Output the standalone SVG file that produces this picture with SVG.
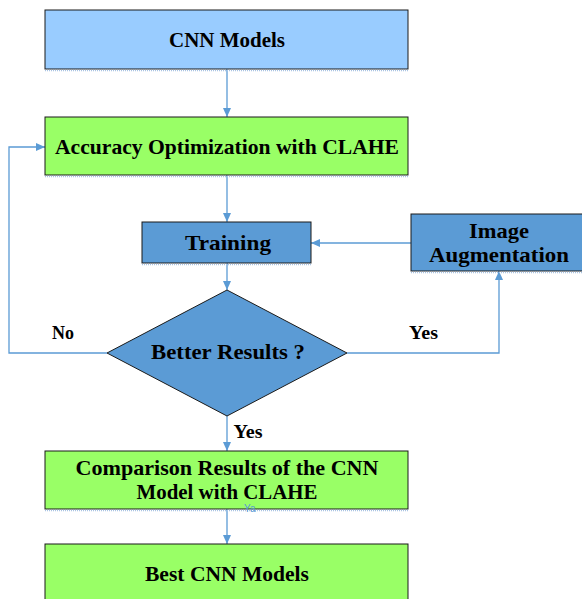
<svg xmlns="http://www.w3.org/2000/svg" width="582" height="599" viewBox="0 0 582 599">
<style>
.box{stroke:#1a1a1a;stroke-width:1}
.lt{fill:#99CCFF}
.gr{fill:#99FF66}
.bl{fill:#5B9BD5}
.sh{stroke:#A9C4E4;stroke-width:1.5;stroke-dasharray:1 1}
.t{font-family:"Liberation Serif","DejaVu Serif",serif;font-weight:bold;font-size:21px;fill:#000;text-anchor:middle}
.lab{font-family:"Liberation Serif","DejaVu Serif",serif;font-weight:bold;font-size:18px;fill:#000}
.c{fill:none;stroke:#5B9BD5;stroke-width:1.3}
</style>
<defs>
<marker id="ah" markerWidth="10" markerHeight="10" refX="9" refY="5" orient="auto" markerUnits="userSpaceOnUse">
<path d="M0,1 L9,5 L0,9 Z" fill="#5B9BD5"/>
</marker>
</defs>
<g id="connectors">
<line class="c" x1="227" y1="69" x2="227" y2="117" marker-end="url(#ah)"/>
<line class="c" x1="227" y1="175" x2="227" y2="222" marker-end="url(#ah)"/>
<line class="c" x1="411" y1="243" x2="311" y2="243" marker-end="url(#ah)"/>
<line class="c" x1="227" y1="263" x2="227" y2="290" marker-end="url(#ah)"/>
<polyline class="c" points="107,353 9,353 9,147 45,147" marker-end="url(#ah)"/>
<polyline class="c" points="347,353 499,353 499,271" marker-end="url(#ah)"/>
<line class="c" x1="227" y1="416" x2="227" y2="451" marker-end="url(#ah)"/>
<line class="c" x1="227" y1="509" x2="227" y2="544" marker-end="url(#ah)"/>
<text class="lab" x="52" y="339" textLength="22" lengthAdjust="spacingAndGlyphs">No</text>
<text class="lab" x="409" y="339" textLength="29" lengthAdjust="spacingAndGlyphs">Yes</text>
<text class="lab" x="233.5" y="438" textLength="29" lengthAdjust="spacingAndGlyphs">Yes</text>
</g>
<g id="cnn-models">
<rect class="box lt" x="45" y="10" width="363" height="59"/>
<line class="sh" x1="45" y1="70.5" x2="408" y2="70.5"/>
<text class="t" x="227" y="47" textLength="116" lengthAdjust="spacingAndGlyphs">CNN Models</text>
</g>
<g id="accuracy-optimization">
<rect class="box gr" x="45" y="117" width="363" height="58"/>
<line class="sh" x1="45" y1="176.5" x2="408" y2="176.5"/>
<text class="t" x="227" y="154" textLength="344" lengthAdjust="spacingAndGlyphs">Accuracy Optimization with CLAHE</text>
</g>
<g id="training">
<rect class="box bl" x="142" y="222" width="169" height="41"/>
<line class="sh" x1="142" y1="264.5" x2="311" y2="264.5"/>
<text class="t" x="228" y="250" textLength="86" lengthAdjust="spacingAndGlyphs">Training</text>
</g>
<g id="image-augmentation">
<rect class="box bl" x="411" y="214" width="175" height="57"/>
<line class="sh" x1="411" y1="272.5" x2="582" y2="272.5"/>
<text class="t" x="499" y="238" textLength="60" lengthAdjust="spacingAndGlyphs">Image</text>
<text class="t" x="499" y="262" textLength="140" lengthAdjust="spacingAndGlyphs">Augmentation</text>
</g>
<g id="better-results">
<polygon class="box bl" points="227,290 347,353 227,416 107,353"/>
<text class="t" x="228" y="359" textLength="154" lengthAdjust="spacingAndGlyphs">Better Results ?</text>
</g>
<g id="comparison-results">
<rect class="box gr" x="45" y="451" width="363" height="58"/>
<line class="sh" x1="45" y1="510.5" x2="408" y2="510.5"/>
<text class="t" x="227" y="475" textLength="303" lengthAdjust="spacingAndGlyphs">Comparison Results of the CNN</text>
<text class="t" x="227" y="499" textLength="181" lengthAdjust="spacingAndGlyphs">Model with CLAHE</text>
</g>
<g id="best-cnn-models">
<rect class="box gr" x="45" y="544" width="363" height="60"/>
<text class="t" x="227" y="581" textLength="164" lengthAdjust="spacingAndGlyphs">Best CNN Models</text>
</g>
<g id="connector-label-ya">
<text x="244" y="512" font-family="'Liberation Sans',sans-serif" font-size="10" fill="#5B9BD5">Ya</text>
</g>
</svg>
